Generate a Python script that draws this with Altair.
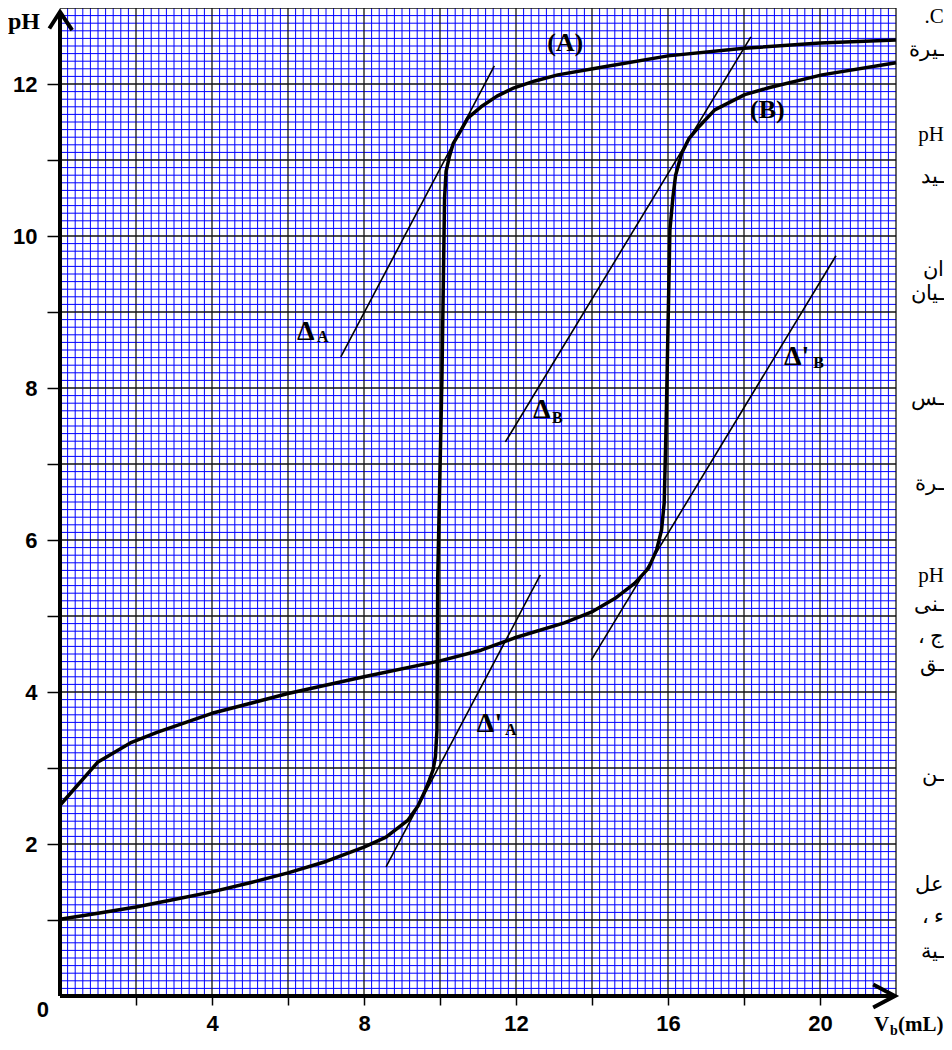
import altair as alt
import pandas as pd
import numpy as np

# ---------------- data ----------------
# Curve (A)
VA = [0, 1, 2, 3, 4, 5, 6, 7, 8, 8.58, 9.15, 9.42, 9.58, 9.72, 9.82, 9.88, 9.92, 9.94,
      10.05, 10.12, 10.16, 10.25, 10.35, 10.55, 10.73, 11.08, 11.5, 11.95, 12.5, 13.1,
      14.25, 16.0, 18.0, 20.0, 22.0]
PHA = [1.01, 1.09, 1.17, 1.27, 1.37, 1.49, 1.62, 1.77, 1.96, 2.09, 2.31, 2.50, 2.67, 2.84,
       2.98, 3.15, 3.5, 5.5, 8.1, 10.5, 10.85, 11.05, 11.22, 11.39, 11.55, 11.70, 11.84,
       11.95, 12.04, 12.12, 12.22, 12.37, 12.47, 12.54, 12.58]
# Curve (B)
VB = [0, 1.0, 1.85, 2.55, 4.0, 6.0, 8.0, 10.0, 11.08, 11.95, 13.27, 13.98, 14.6, 15.12,
      15.49, 15.7, 15.83, 15.9, 15.95, 16.05, 16.13, 16.2, 16.36, 16.55, 16.8, 17.23,
      18.02, 18.65, 20.05, 22.0]
PHB = [2.51, 3.08, 3.33, 3.47, 3.72, 3.98, 4.2, 4.41, 4.55, 4.71, 4.91, 5.05, 5.23, 5.43,
       5.63, 5.87, 6.13, 6.49, 7.5, 10.08, 10.51, 10.8, 11.09, 11.28, 11.43, 11.66,
       11.86, 11.95, 12.12, 12.28]

# Tangent lines
TAN_X1 = [7.39, 8.58, 11.72, 13.98]
TAN_Y1 = [8.41, 1.70, 7.29, 4.42]
TAN_X2 = [11.43, 12.64, 18.18, 20.42]
TAN_Y2 = [12.24, 5.54, 12.62, 9.74]

# Axis lines (with arrows)
AX_X1 = [0, 0]
AX_Y1 = [0, 0]
AX_X2 = [21.97, 0]
AX_Y2 = [0, 12.95]
ARROW_ID = ["y", "y", "y", "x", "x", "x"]
ARROW_X = [-0.28, 0, 0.32, 21.4, 21.97, 21.4]
ARROW_Y = [12.73, 12.95, 12.71, 0.15, 0, -0.15]

# Ticks
X_TICKS = [2, 4, 6, 8, 10, 12, 14, 16, 18, 20]
Y_TICKS = [1, 2, 3, 4, 5, 6, 7, 8, 9, 10, 11, 12]

# Bold serif labels
LBL_T = ["(A)", "(B)", "pH", "\u0394", "A", "\u0394", "B", "\u0394'", "A", "\u0394'", "B",
         "V", "b", "(mL)"]
LBL_X = [12.82, 18.16, -1.37, 6.24, 6.76, 12.45, 12.95, 10.97, 11.71, 19.05, 19.82,
         21.42, 21.84, 22.05]
LBL_Y = [12.43, 11.55, 12.72, 8.63, 8.61, 7.61, 7.54, 3.47, 3.43, 8.30, 8.26,
         -0.46, -0.51, -0.46]
LBL_FS = [26, 26, 24, 28, 16, 28, 16, 28, 16, 28, 16, 21, 14, 21]

# Arabic text fragments on the right (cut by the page edge)
AR_T = [".C", "\u0640\u064a\u0631\u0629", "pH", "\u0640\u064a\u062f", "\u0627\u0646",
        "\u0640\u064a\u0627\u0646", "\u0640\u0633", "\u0640\u0631\u0629", "pH",
        "\u0640\u0646\u0649", "\u060c \u062c", "\u0640\u0642", "\u0640\u0646",
        "\u0639\u0644", "\u060c \u0621", "\u0640\u064a\u0629"]
AR_Y = [12.88, 12.45, 11.33, 10.78, 9.55, 9.24, 7.86, 6.74, 5.52, 5.14, 4.72, 4.36,
        2.91, 1.46, 1.04, 0.58]
AR_X = 23.26

# ---------------- frames ----------------
minor_x = [round(v, 1) for v in np.arange(0.2, 22.0, 0.2) if abs(v / 2 - round(v / 2)) > 1e-6]
minor_y = [round(v, 1) for v in np.arange(0.1, 13.0, 0.1) if abs(v - round(v)) > 1e-6]
major_x = list(range(2, 23, 2))
major_y = list(range(1, 14))

df_minx = pd.DataFrame({"x": minor_x})
df_miny = pd.DataFrame({"y": minor_y})
df_majx = pd.DataFrame({"x": major_x})
df_majy = pd.DataFrame({"y": major_y})
df_a = pd.DataFrame({"x": VA, "y": PHA, "i": range(len(VA))})
df_b = pd.DataFrame({"x": VB, "y": PHB, "i": range(len(VB))})
df_tan = pd.DataFrame({"x": TAN_X1, "y": TAN_Y1, "x2": TAN_X2, "y2": TAN_Y2})
df_ax = pd.DataFrame({"x": AX_X1, "y": AX_Y1, "x2": AX_X2, "y2": AX_Y2})
df_arrow = pd.DataFrame({"id": ARROW_ID, "x": ARROW_X, "y": ARROW_Y, "i": range(len(ARROW_X))})
df_lbl = pd.DataFrame({"t": LBL_T, "x": LBL_X, "y": LBL_Y, "fs": LBL_FS})
df_ar = pd.DataFrame({"t": AR_T, "y": AR_Y, "x": [AR_X] * len(AR_T)})
df_zero = pd.DataFrame({"t": ["0"], "x": [-0.45], "y": [-0.18]})

# ---------------- scales / axes ----------------
xs = alt.Scale(domain=[0, 22], nice=False, zero=False)
ys = alt.Scale(domain=[0, 13], nice=False, zero=False)
xaxis = alt.Axis(values=X_TICKS, labelExpr="datum.value % 4 == 0 ? datum.label : ''",
                 title=None, domain=False, grid=False, tickSize=9, tickWidth=1.5,
                 tickColor="black", labelFont="Liberation Sans", labelFontWeight="bold",
                 labelFontSize=22, labelColor="black", labelPadding=8, labelFlush=False,
                 labelOverlap=False)
yaxis = alt.Axis(values=Y_TICKS, labelExpr="datum.value % 2 == 0 ? datum.label : ''",
                 title=None, domain=False, grid=False, tickSize=13, tickWidth=1.5,
                 tickColor="black", labelFont="Liberation Sans", labelFontWeight="bold",
                 labelFontSize=22, labelColor="black", labelPadding=10, labelFlush=False,
                 labelOverlap=False)


def X(f="x"):
    return alt.X(f, type="quantitative", scale=xs, axis=xaxis)


def Y(f="y"):
    return alt.Y(f, type="quantitative", scale=ys, axis=yaxis)


minx = alt.Chart(df_minx).mark_rule(color="#0000ff", strokeWidth=1).encode(x=X())
miny = alt.Chart(df_miny).mark_rule(color="#0000ff", strokeWidth=1).encode(y=Y())
majx = alt.Chart(df_majx).mark_rule(color="#111111", strokeWidth=1.3).encode(x=X())
majy = alt.Chart(df_majy).mark_rule(color="#111111", strokeWidth=1.3).encode(y=Y())

curve_a = alt.Chart(df_a).mark_line(color="black", strokeWidth=3.5, strokeJoin="round").encode(
    x=X(), y=Y(), order="i:Q")
curve_b = alt.Chart(df_b).mark_line(color="black", strokeWidth=3.5, strokeJoin="round").encode(
    x=X(), y=Y(), order="i:Q")

tangents = alt.Chart(df_tan).mark_rule(color="black", strokeWidth=1.6).encode(
    x=X(), y=Y(), x2="x2:Q", y2="y2:Q")
axes_lines = alt.Chart(df_ax).mark_rule(color="black", strokeWidth=4).encode(
    x=X(), y=Y(), x2="x2:Q", y2="y2:Q")
arrows = alt.Chart(df_arrow).mark_line(color="black", strokeWidth=4, strokeJoin="miter").encode(
    x=X(), y=Y(), detail="id:N", order="i:Q")

labels = alt.Chart(df_lbl).mark_text(font="Liberation Serif", fontWeight="bold", align="left",
                                     baseline="alphabetic", color="black").encode(
    x=X(), y=Y(), text="t:N", size=alt.Size("fs:Q", scale=None, legend=None))
arabic = alt.Chart(df_ar).mark_text(font="Liberation Serif", fontSize=21, align="right",
                                    baseline="middle", color="black").encode(
    x=X(), y=Y(), text="t:N")
zero = alt.Chart(df_zero).mark_text(font="Liberation Sans", fontWeight="bold", fontSize=22,
                                    align="center", baseline="middle", color="black").encode(
    x=X(), y=Y(), text="t:N")

chart = alt.layer(minx, miny, majx, majy, curve_a, curve_b, tangents, axes_lines, arrows,
                  labels, arabic, zero).properties(
    width=836, height=988,
    autosize=alt.AutoSizeParams(type="none"),
    padding={"left": 52, "top": 0, "right": 48, "bottom": 42},
    background="white",
).configure_view(stroke=None)

chart.save("out.html", embed_options={"renderer": "svg", "actions": False})
